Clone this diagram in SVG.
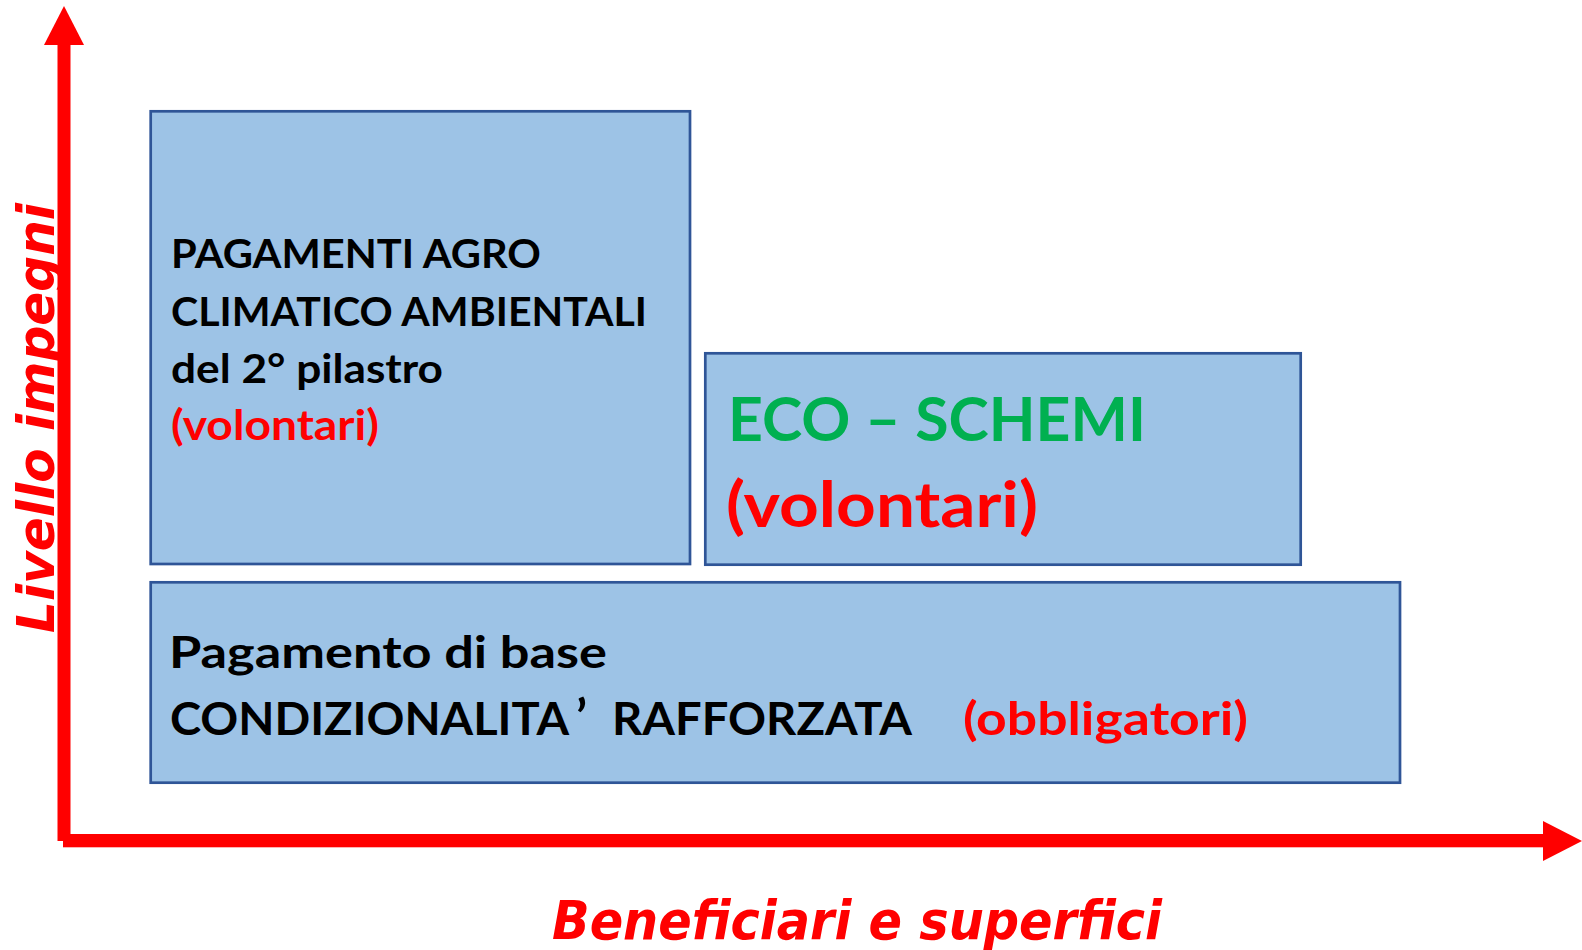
<svg xmlns="http://www.w3.org/2000/svg" width="1582" height="950" viewBox="0 0 1582 950">
  <style>
    .box { fill: #9DC3E6; stroke: #2F5597; stroke-width: 2.7; }
    .t { font-family: Lato, "Open Sans", "Liberation Sans", sans-serif; font-weight: bold; }
    .blk { fill: #000000; }
    .red { fill: #FF0000; }
    .grn { fill: #00B050; }
    .ax { fill: #FF0000; }
    .axl { font-family: "DejaVu Sans", Verdana, sans-serif; font-weight: bold; font-style: italic; fill: #FF0000; }
  </style>
  <rect x="0" y="0" width="1582" height="950" fill="#FFFFFF"/>

  <g id="axes">
    <rect class="ax" x="57.5" y="40" width="13" height="801"/>
    <polygon class="ax" points="64,6 84,45 44,45"/>
    <rect class="ax" x="63" y="834" width="1484" height="13.3"/>
    <polygon class="ax" points="1543,821 1582,841 1543,861"/>
  </g>

  <g id="node-agro">
    <rect class="box" x="150.7" y="111.3" width="539.3" height="452.7"/>
    <text class="t blk" x="171" y="268" font-size="41" textLength="370" lengthAdjust="spacingAndGlyphs">PAGAMENTI AGRO</text>
    <text class="t blk" x="171" y="326" font-size="41" textLength="476" lengthAdjust="spacingAndGlyphs">CLIMATICO AMBIENTALI</text>
    <text class="t blk" x="171" y="383" font-size="41" textLength="272" lengthAdjust="spacingAndGlyphs">del 2° pilastro</text>
    <text class="t red" x="171" y="440" font-size="42" textLength="208" lengthAdjust="spacingAndGlyphs">(volontari)</text>
  </g>

  <g id="node-eco">
    <rect class="box" x="705.3" y="353.3" width="595.4" height="211.4"/>
    <text class="t grn" x="728" y="441" font-size="61" textLength="418" lengthAdjust="spacingAndGlyphs">ECO – SCHEMI</text>
    <text class="t red" x="726" y="527" font-size="63" textLength="312" lengthAdjust="spacingAndGlyphs">(volontari)</text>
  </g>

  <g id="node-base">
    <rect class="box" x="150.7" y="582.3" width="1249.3" height="200.4"/>
    <text class="t blk" x="169" y="668" font-size="44" textLength="438" lengthAdjust="spacingAndGlyphs">Pagamento di base</text>
    <text class="t blk" x="170" y="735" font-size="45" textLength="399" lengthAdjust="spacingAndGlyphs">CONDIZIONALITA</text>
    <text class="t blk" x="576" y="735" font-size="50">’</text>
    <text class="t blk" x="612" y="735" font-size="45" textLength="300" lengthAdjust="spacingAndGlyphs">RAFFORZATA</text>
    <text class="t red" x="963" y="735" font-size="45" textLength="285" lengthAdjust="spacingAndGlyphs">(obbligatori)</text>
  </g>

  <g id="label-y">
    <text class="axl" transform="translate(54,633) rotate(-90)" x="0" y="0" font-size="52" textLength="430" lengthAdjust="spacingAndGlyphs">Livello impegni</text>
  </g>
  <g id="label-x">
    <text class="axl" x="552" y="939" font-size="53" textLength="610" lengthAdjust="spacingAndGlyphs">Beneficiari e superfici</text>
  </g>
</svg>
